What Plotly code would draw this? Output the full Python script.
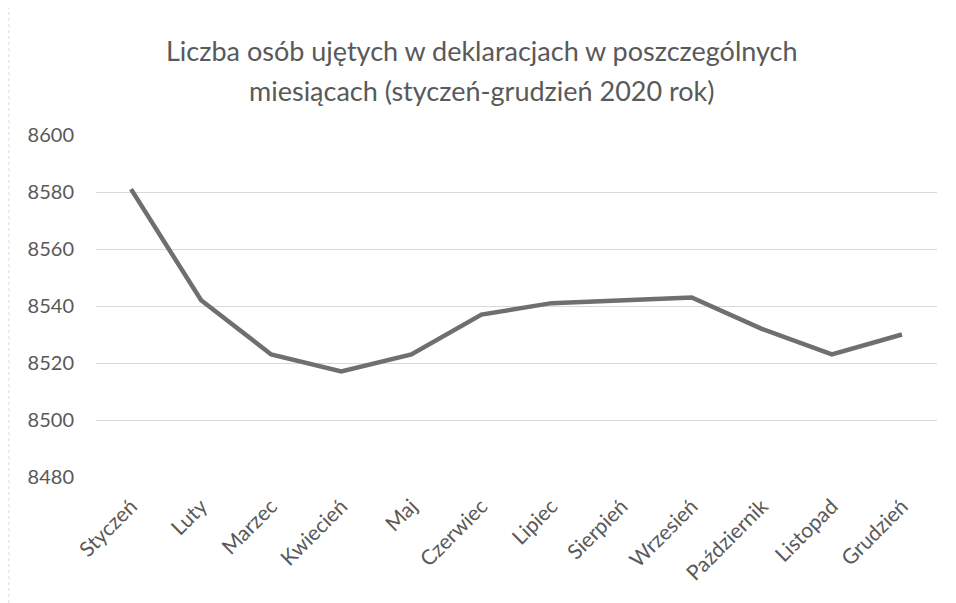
import plotly.graph_objects as go

months = ["Styczeń", "Luty", "Marzec", "Kwiecień", "Maj", "Czerwiec", "Lipiec",
          "Sierpień", "Wrzesień", "Październik", "Listopad", "Grudzień"]
values = [8581, 8542, 8523, 8517, 8523, 8537, 8541, 8542, 8543, 8532, 8523, 8530]
y_ticks = [8480, 8500, 8520, 8540, 8560, 8580, 8600]

title_line1 = "Liczba osób ujętych w deklaracjach w poszczególnych"
title_line2 = "miesiącach (styczeń-grudzień 2020 rok)"

W, H = 948, 595
fig = go.Figure()
fig.add_trace(go.Scatter(
    x=months, y=values, mode="lines",
    line=dict(color="#6f6f6f", width=4.5),
    showlegend=False,
))

fig.update_layout(
    width=W, height=H,
    paper_bgcolor="white", plot_bgcolor="white",
    margin=dict(l=88, r=19, t=127, b=126),
    font=dict(family="Lato, sans-serif", color="#595959"),
    xaxis=dict(
        type="category", range=[-0.5, 11.5], showgrid=False, zeroline=False,
        showline=False, tickangle=-45, tickfont=dict(size=21, color="#595959"),
        ticks="", automargin=False, ticklabelstandoff=12,
    ),
    yaxis=dict(
        range=[8480, 8600], tickvals=y_ticks, showgrid=True, gridcolor="#d9d9d9",
        gridwidth=1, zeroline=False, showline=False, ticks="",
        tickfont=dict(size=20, color="#595959"), ticklabelstandoff=21,
        automargin=False,
    ),
)
for txt, ypx in [(title_line1, 42), (title_line2, 82)]:
    fig.add_annotation(
        text=txt, xref="paper", yref="paper",
        x=(W / 2 - 88) / (W - 88 - 19), y=1 + (127 - ypx) / (H - 127 - 126),
        xanchor="center", yanchor="middle", showarrow=False,
        font=dict(size=27, color="#595959", family="Lato, sans-serif"),
    )
fig.add_shape(type="line", xref="paper", yref="paper",
              x0=-88 / (W - 107) + 0.001, x1=-88 / (W - 107) + 0.001,
              y0=-126 / (H - 253), y1=1 + 127 / (H - 253),
              line=dict(color="#dddddd", width=1, dash="dot"))

fig.write_html("out.html")
